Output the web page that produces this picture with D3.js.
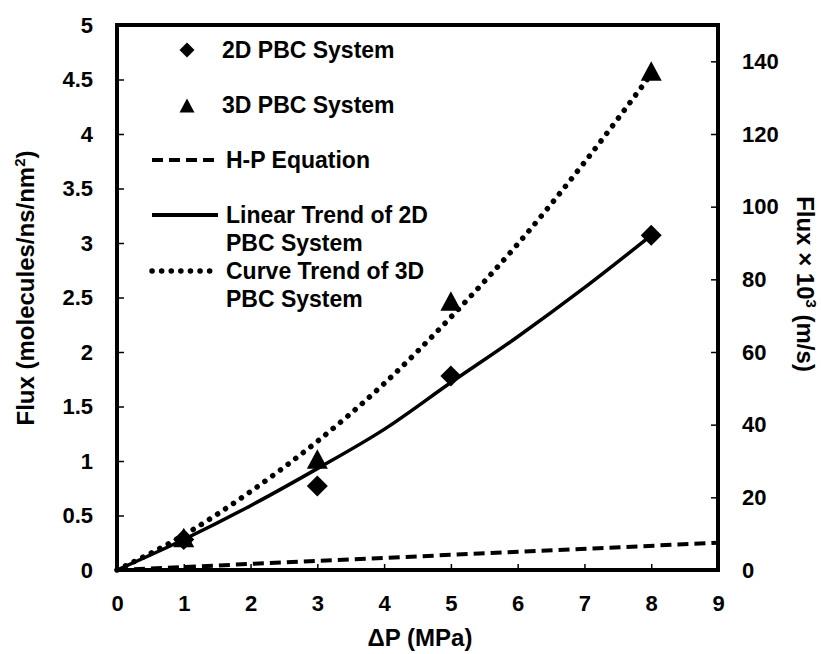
<!DOCTYPE html>
<html>
<head>
<meta charset="utf-8">
<script src="https://cdn.jsdelivr.net/npm/d3@7"></script>
<style>
  body { margin: 0; background: #fff; }
  text { font-family: "Liberation Sans", Arial, sans-serif; font-weight: bold; fill: #000; }
</style>
</head>
<body>
<svg id="drawing_region"></svg>
<script>
// measured points
const pressure = [1, 3, 5, 8];
const flux2D = [0.28, 0.77, 1.78, 3.07];
const flux3D = [0.30, 1.02, 2.47, 4.58];

// trend lines
const trendX = [0, 1, 2, 3, 4, 5, 6, 7, 8];
const linear2D = [0, 0.28, 0.59, 0.93, 1.29, 1.72, 2.14, 2.59, 3.07];
const curve3D = [0, 0.32, 0.72, 1.18, 1.71, 2.32, 2.99, 3.74, 4.55];
const hpX = [0, 9];
const hpFlux = [0, 0.25];

const xTicks = [0, 1, 2, 3, 4, 5, 6, 7, 8, 9];
const yTicks = [0, 0.5, 1, 1.5, 2, 2.5, 3, 3.5, 4, 4.5, 5];
const y2Ticks = [0, 20, 40, 60, 80, 100, 120, 140];

const legendLabels = [
    ["2D PBC System"],
    ["3D PBC System"],
    ["H-P Equation"],
    ["Linear Trend of 2D", "PBC System"],
    ["Curve Trend of 3D", "PBC System"]
];

const config = {
    width: 821,
    height: 654,
    margin: {top: 25, right: 103, bottom: 84, left: 117}
};

const inner_width = config.width - config.margin.left - config.margin.right;
const inner_height = config.height - config.margin.top - config.margin.bottom;

const svg = d3.select('#drawing_region')
    .attr('width', config.width)
    .attr('height', config.height);

const chart = svg.append('g')
    .attr('transform', `translate(${config.margin.left}, ${config.margin.top})`);

const xscale = d3.scaleLinear().domain([0, 9]).range([0, inner_width]);
const yscale = d3.scaleLinear().domain([0, 5]).range([inner_height, 0]);
const y2scale = d3.scaleLinear().domain([0, 150]).range([inner_height, 0]);

// axes, ticks point inwards
const xaxis = d3.axisBottom(xscale).tickValues(xTicks).tickSize(-6).tickSizeOuter(0).tickPadding(25);
const yaxis = d3.axisLeft(yscale).tickValues(yTicks).tickSize(-7).tickSizeOuter(0).tickPadding(24)
    .tickFormat(d => d);
const y2axis = d3.axisRight(y2scale).tickValues(y2Ticks).tickSize(-7).tickSizeOuter(0).tickPadding(24);

function styleAxis(g) {
    g.select('.domain').remove();
    g.selectAll('.tick line').attr('stroke', '#000').attr('stroke-width', 1.5);
    g.selectAll('.tick text').attr('font-size', 22).attr('font-family', null).attr('fill', '#000');
}

chart.append('g').attr('transform', `translate(0, ${inner_height})`).call(xaxis).call(styleAxis);
chart.append('g').call(yaxis).call(styleAxis);
chart.append('g').attr('transform', `translate(${inner_width}, 0)`).call(y2axis).call(styleAxis);

// frame
chart.append('rect')
    .attr('width', inner_width)
    .attr('height', inner_height)
    .attr('fill', 'none')
    .attr('stroke', '#000')
    .attr('stroke-width', 4);

// lines
const line = d3.line()
    .x(d => xscale(d[0]))
    .y(d => yscale(d[1]))
    .curve(d3.curveMonotoneX);

chart.append('path')
    .datum(d3.zip(hpX, hpFlux))
    .attr('d', line)
    .attr('fill', 'none').attr('stroke', '#000')
    .attr('stroke-width', 4).attr('stroke-dasharray', '11 6');

chart.append('path')
    .datum(d3.zip(trendX, linear2D))
    .attr('d', line)
    .attr('fill', 'none').attr('stroke', '#000')
    .attr('stroke-width', 3.5);

chart.append('path')
    .datum(d3.zip(trendX, curve3D))
    .attr('d', line)
    .attr('fill', 'none').attr('stroke', '#000')
    .attr('stroke-width', 5.5).attr('stroke-linecap', 'round')
    .attr('stroke-dasharray', '0.1 9.5');

// markers
const diamond = r => `M0,${-r}L${r},0L0,${r}L${-r},0Z`;
const triangle = r => `M0,${-r}L${r},${r * 0.85}L${-r},${r * 0.85}Z`;

chart.selectAll('.p2d').data(d3.zip(pressure, flux2D)).enter()
    .append('path')
    .attr('class', 'p2d')
    .attr('d', diamond(10.5))
    .attr('transform', d => `translate(${xscale(d[0])}, ${yscale(d[1])})`);

chart.selectAll('.p3d').data(d3.zip(pressure, flux3D)).enter()
    .append('path')
    .attr('class', 'p3d')
    .attr('d', triangle(10.5))
    .attr('transform', d => `translate(${xscale(d[0])}, ${yscale(d[1]) + 1})`);

// legend
const legend = svg.append('g');
const rowY = [50, 105, 160, 215, 271];
const lineStyles = [null, null, '11 6', null, '0.1 9.5'];

legendLabels.forEach((lines, i) => {
    const y = rowY[i];
    if (i === 0) {
        legend.append('path').attr('d', diamond(7.5)).attr('transform', `translate(187, ${y})`);
    } else if (i === 1) {
        legend.append('path').attr('d', triangle(7.5)).attr('transform', `translate(187, ${y + 1})`);
    } else {
        legend.append('line')
            .attr('x1', 152).attr('x2', 218).attr('y1', y).attr('y2', y)
            .attr('stroke', '#000')
            .attr('stroke-width', i === 4 ? 5.5 : 4)
            .attr('stroke-linecap', i === 4 ? 'round' : 'butt')
            .attr('stroke-dasharray', lineStyles[i]);
    }
    lines.forEach((t, j) => {
        legend.append('text')
            .attr('x', i < 2 ? 222 : 226)
            .attr('y', y + j * 28)
            .attr('dy', '0.36em')
            .attr('font-size', 23)
            .text(t);
    });
});

// axis titles
svg.append('text')
    .attr('x', 420)
    .attr('y', 646)
    .attr('text-anchor', 'middle')
    .attr('font-size', 24)
    .text('ΔP (MPa)');

const ytitle = svg.append('text')
    .attr('transform', 'translate(34, 288) rotate(-90)')
    .attr('text-anchor', 'middle')
    .attr('font-size', 24);
ytitle.append('tspan').text('Flux (molecules/ns/nm');
ytitle.append('tspan').attr('dy', -9).attr('font-size', 15).text('2');
ytitle.append('tspan').attr('dy', 9).text(')');

const y2title = svg.append('text')
    .attr('transform', 'translate(797, 284) rotate(90)')
    .attr('text-anchor', 'middle')
    .attr('font-size', 24);
y2title.append('tspan').text('Flux × 10');
y2title.append('tspan').attr('dy', -9).attr('font-size', 15).text('3');
y2title.append('tspan').attr('dy', 9).text(' (m/s)');
</script>
</body>
</html>
